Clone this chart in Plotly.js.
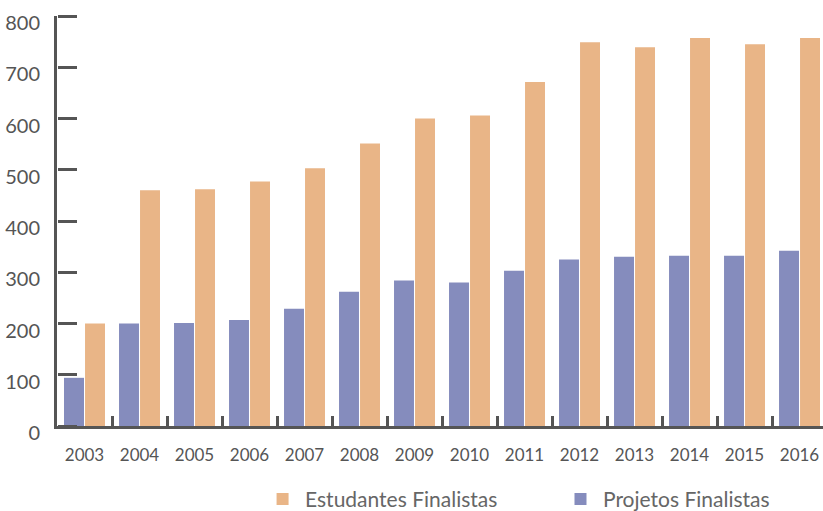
<!DOCTYPE html>
<html>
<head>
<meta charset="utf-8">
<script src="https://cdn.plot.ly/plotly-3.0.1.min.js"></script>
<style>html,body{margin:0;padding:0;background:#fff;}#chart{width:823px;height:511px;}</style>
</head>
<body>
<div id="chart"></div>
<script>
var years = ['2003','2004','2005','2006','2007','2008','2009','2010','2011','2012','2013','2014','2015','2016'];
var projetos = [94, 200, 201, 207, 229, 262, 284, 280, 303, 325, 330, 332, 332, 342];
var estudantes = [200, 460, 462, 477, 503, 551, 600, 606, 671, 749, 739, 757, 745, 757];
var yTicks = [0, 100, 200, 300, 400, 500, 600, 700, 800];

var traces = [
  {type:'bar', name:'Projetos Finalistas', x:years, y:projetos, marker:{color:'#858cbd'}, legend:'legend2'},
  {type:'bar', name:'Estudantes Finalistas', x:years, y:estudantes, marker:{color:'#e9b587'}, legend:'legend'},
  {type:'scatter', mode:'none', x:[], y:[], yaxis:'y2', showlegend:false, hoverinfo:'skip'}
];

var legFont = {size:21, color:'#666'};
var layout = {
  width:823, height:511,
  margin:{l:57, r:0, t:16, b:85},
  paper_bgcolor:'#fff', plot_bgcolor:'#fff',
  font:{family:'Lato, "Open Sans", sans-serif', color:'#555'},
  barmode:'group', bargap:0.236, bargroupgap:0.05,
  showlegend:true,
  legend:{orientation:'h', xref:'container', yref:'container', x:0.316, xanchor:'left', y:0.063, yanchor:'top',
          font:legFont, itemwidth:35, bgcolor:'rgba(0,0,0,0)'},
  legend2:{orientation:'h', xref:'container', yref:'container', x:0.678, xanchor:'left', y:0.063, yanchor:'top',
          font:legFont, itemwidth:35, bgcolor:'rgba(0,0,0,0)'},
  xaxis:{type:'category', range:[-0.5, 13.427], showline:true, linecolor:'#555', linewidth:3,
         ticks:'inside', tickson:'boundaries', ticklen:10, tickwidth:3, tickcolor:'#555',
         showgrid:false, zeroline:false, tickfont:{size:17, color:'#555'}, ticklabelstandoff:12, tickangle:0},
  yaxis:{range:[0, 800], tickmode:'array', tickvals:yTicks, showline:true, linecolor:'#555', linewidth:3,
         ticks:'', showgrid:false, zeroline:false, ticklabelshift:7, ticklabelstandoff:10,
         tickfont:{size:20, color:'#555'}},
  yaxis2:{overlaying:'y', side:'right', anchor:'free', position:0, range:[0, 800], tickmode:'array', tickvals:yTicks,
          ticks:'outside', ticklen:19, tickwidth:3, tickcolor:'#555', showticklabels:false,
          showline:false, showgrid:false, zeroline:false}
};
Plotly.newPlot('chart', traces, layout, {displayModeBar:false, staticPlot:true});
</script>
</body>
</html>
